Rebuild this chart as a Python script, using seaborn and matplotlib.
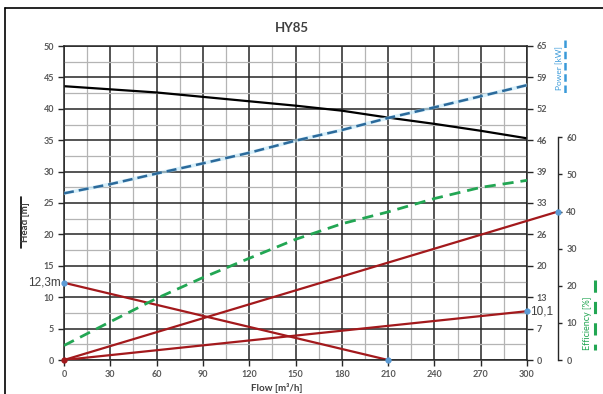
import numpy as np
import pandas as pd
import matplotlib
matplotlib.use("Agg")
import matplotlib.pyplot as plt
from matplotlib.lines import Line2D
import seaborn as sns

# Pump HY85 characteristic curves
flow = [0, 30, 60, 90, 120, 150, 180, 210, 240, 270, 300]
head_m = [43.6, 43.1, 42.6, 41.9, 41.2, 40.5, 39.7, 38.6, 37.6, 36.5, 35.3]
power_kw = [34.5, 36.4, 38.6, 40.7, 42.9, 45.4, 47.6, 50.1, 52.3, 54.6, 56.9]
efficiency_pct = [3.9, 10.3, 16.6, 22.2, 27.4, 32.5, 36.7, 39.9, 43.5, 46.5, 48.4]

# Construction lines
system_head = [12.3, 0.0]          # head at flow 0 and flow 210
system_flow = [0, 210]
power_point = 10.1                 # kW at flow 300
eff_point = 40                     # % read on efficiency axis

x_ticks = [0, 30, 60, 90, 120, 150, 180, 210, 240, 270, 300]
head_ticks = [0, 5, 10, 15, 20, 25, 30, 35, 40, 45, 50]
power_ticks = [0, 6.5, 13, 19.5, 26, 32.5, 39, 45.5, 52, 58.5, 65]
power_labels = ["0", "7", "13", "20", "26", "33", "39", "46", "52", "59", "65"]
eff_ticks = [0, 10, 20, 30, 40, 50, 60]

df = pd.DataFrame({"flow": flow, "head": head_m, "power": power_kw, "eff": efficiency_pct})

sns.set_theme(style="white")
plt.rcParams["font.family"] = ["Lato", "DejaVu Sans"]

W, H = 603, 394
fig = plt.figure(figsize=(W / 100, H / 100), dpi=100)
fig.patch.set_facecolor("white")
L, R, T, B = 64, 527, 46, 360
ax = fig.add_axes([L / W, 1 - B / H, (R - L) / W, (B - T) / H])

tick_col = "#595959"
RED = "#a3191c"
BLUE_PT = "#5b9bd5"

# grid
ax.set_xlim(0, 300)
ax.set_ylim(0, 50)
ax.set_xticks(x_ticks)
ax.set_yticks(head_ticks)
ax.set_xticks(np.arange(15, 300, 30), minor=True)
ax.set_yticks(np.arange(2.5, 50, 5), minor=True)
ax.grid(which="major", color="#262626", lw=1.1)
ax.grid(which="minor", color="#b4b4b4", lw=0.9)
ax.set_axisbelow(True)
for s in ax.spines.values():
    s.set_color("#262626")
    s.set_linewidth(1.1)
ax.tick_params(which="major", direction="out", length=4, width=1, color="#262626",
               labelsize=6.5, labelcolor=tick_col, pad=3, bottom=True, left=True)
ax.tick_params(which="minor", length=0)
for lbl in ax.get_xticklabels() + ax.get_yticklabels():
    lbl.set_fontweight("bold")

# head curve
sns.lineplot(data=df, x="flow", y="head", ax=ax, color="black", lw=1.6, legend=False)

# system line
sns.lineplot(x=system_flow, y=system_head, ax=ax, color=RED, lw=1.6, legend=False)
ax.plot(system_flow[0], system_head[0], "o", ms=3.5, color=BLUE_PT, clip_on=False, zorder=6)
ax.plot(system_flow[1], system_head[1], "o", ms=3.5, color=BLUE_PT, clip_on=False, zorder=6)
ax.text(-2, system_head[0], "12,3m", ha="right", va="center", fontsize=8.5,
        color="#404040", family=["Liberation Sans", "DejaVu Sans"])
ax.set_xlabel("")
ax.set_ylabel("")

# power axis
axp = ax.twinx()
axp.set_ylim(0, 65)
axp.set_yticks(power_ticks)
axp.set_yticklabels(power_labels)
axp.tick_params(direction="out", length=4, width=1, color="#262626", labelsize=6.5,
                labelcolor=tick_col, pad=3, right=True)
for lbl in axp.get_yticklabels():
    lbl.set_fontweight("bold")
for s in axp.spines.values():
    s.set_visible(False)
axp.grid(False)
sns.lineplot(data=df, x="flow", y="power", ax=axp, color="#bfe6f8", lw=2.6, alpha=0.6, legend=False)
sns.lineplot(data=df, x="flow", y="power", ax=axp, color="#2b6a9b", lw=1.8, legend=False)
axp.lines[-1].set_dashes([4, 2])
sns.lineplot(x=[0, 300], y=[0, power_point], ax=axp, color=RED, lw=1.6, legend=False)
axp.plot(300, power_point, "o", ms=3.5, color=BLUE_PT, clip_on=False, zorder=6)
axp.text(302, power_point, "10,1", ha="left", va="center", fontsize=8.5,
         color="#404040", family=["Liberation Sans", "DejaVu Sans"])
axp.set_ylabel("")

# efficiency axis
EFF_SPINE = 1.067
axe = ax.twinx()
eff_top = 60 * (B - T) / 222.7
axe.set_ylim(0, eff_top)
axe.spines["right"].set_position(("axes", EFF_SPINE))
axe.spines["right"].set_bounds(0, 60)
axe.spines["right"].set_color("#262626")
axe.spines["right"].set_linewidth(1.0)
for k in ("left", "top", "bottom"):
    axe.spines[k].set_visible(False)
axe.set_yticks(eff_ticks)
axe.tick_params(direction="out", length=3, width=1, color="#262626", labelsize=6.5,
                labelcolor=tick_col, pad=3, right=True)
for lbl in axe.get_yticklabels():
    lbl.set_fontweight("bold")
axe.grid(False)
sns.lineplot(data=df, x="flow", y="eff", ax=axe, color="#22a653", lw=2.0, legend=False)
axe.lines[-1].set_dashes([4, 2.5])
x_end = EFF_SPINE * 300
sns.lineplot(x=[0, x_end], y=[0, eff_point], ax=axe, color=RED, lw=1.6, legend=False)
axe.lines[-1].set_clip_on(False)
axe.plot(x_end, eff_point, "o", ms=3.5, color=BLUE_PT, clip_on=False, zorder=6)
axe.plot(0, 0, "o", ms=3.5, color=RED, clip_on=False, zorder=6)
axe.set_ylabel("")
axe.set_xlim(0, 300)

# titles and labels
fig.text(292 / W, 1 - 28 / H, "HY85", ha="center", va="center", fontsize=9.5,
         fontweight="bold", color="#404040")
fig.text(277 / W, 1 - 388 / H, "Flow [m³/h]", ha="center", va="center", fontsize=7,
         fontweight="bold", color="#404040")
fig.text(26 / W, 1 - 222 / H, "Head [m]", ha="center", va="center", rotation=90,
         fontsize=7, fontweight="bold", color="#404040")
fig.add_artist(Line2D([21 / W, 21 / W], [1 - 197 / H, 1 - 248 / H], color="black",
                      lw=1.2, transform=fig.transFigure))
fig.text(560 / W, 1 - 68 / H, "Power [kW]", ha="center", va="center", rotation=90,
         fontsize=6, color="#3a9ad9")
fig.add_artist(Line2D([565 / W, 565 / W], [1 - 40 / H, 1 - 95 / H], color="#3a9ad9",
                      lw=1.8, dashes=[3, 1.5], transform=fig.transFigure))
fig.text(588 / W, 1 - 323 / H, "Efficiency [%]", ha="center", va="center", rotation=90,
         fontsize=6.5, color="#22a653")
fig.add_artist(Line2D([595 / W, 595 / W], [1 - 280 / H, 1 - 350 / H], color="#22a653",
                      lw=2.2, dashes=[4, 3], transform=fig.transFigure))

# frame
fig.add_artist(Line2D([5 / W, 5 / W], [0, 1 - 8 / H], color="black", lw=1.2,
                      transform=fig.transFigure))
fig.add_artist(Line2D([5 / W, 1], [1 - 8 / H, 1 - 8 / H], color="black", lw=1.2,
                      transform=fig.transFigure))

fig.savefig("out.png", dpi=100, facecolor="white")
